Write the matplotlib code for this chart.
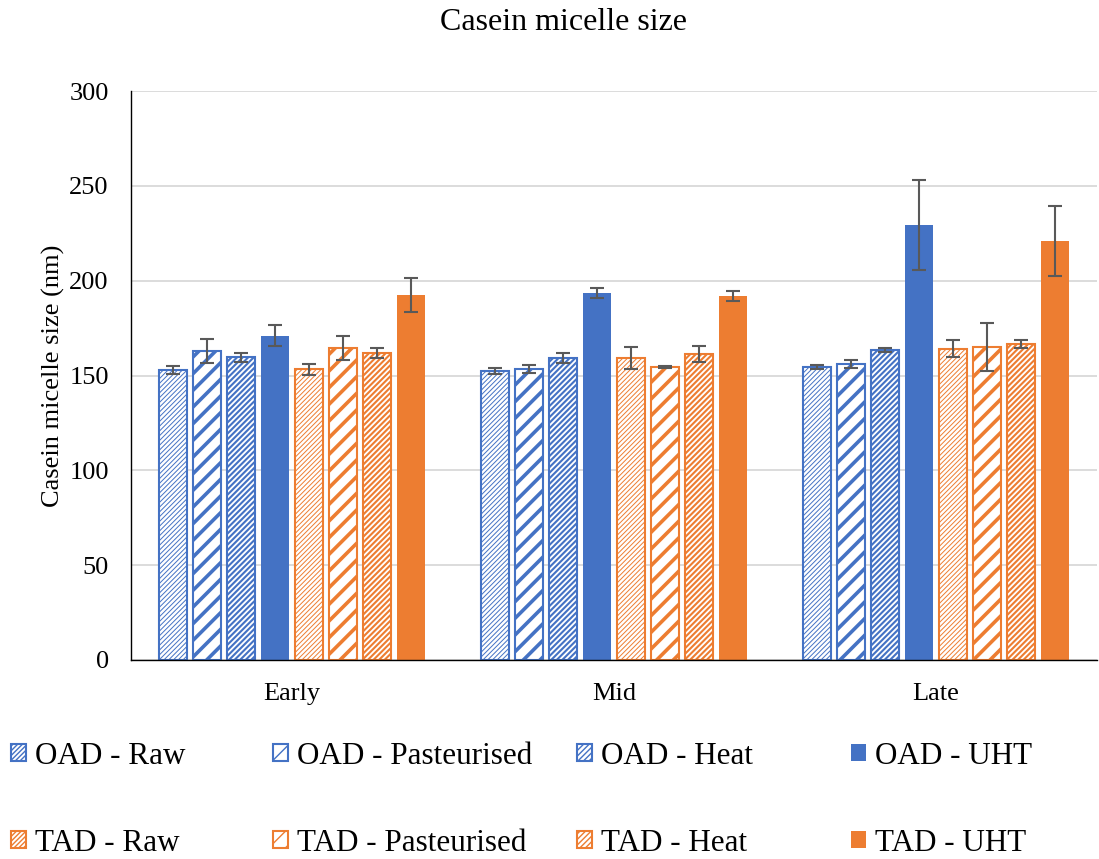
import numpy as np
import matplotlib
matplotlib.use('Agg')
import matplotlib.pyplot as plt

plt.rcParams['font.family'] = ['Liberation Serif', 'DejaVu Serif']

stages = ['Early', 'Mid', 'Late']
series = ['OAD - Raw', 'OAD - Pasteurised', 'OAD - Heat', 'OAD - UHT',
          'TAD - Raw', 'TAD - Pasteurised', 'TAD - Heat', 'TAD - UHT']

# mean size (nm) per series, one value per stage
means = [
    [152.9, 152.3, 154.5],
    [162.7, 153.4, 156.0],
    [159.5, 159.2, 163.4],
    [171.0, 193.5, 229.5],
    [153.2, 159.2, 164.0],
    [164.3, 154.5, 165.0],
    [161.8, 161.3, 166.6],
    [192.4, 191.9, 220.7],
]
errors = [
    [2.0, 1.5, 1.0],
    [6.3, 2.0, 2.0],
    [2.5, 2.5, 1.0],
    [5.5, 2.5, 23.7],
    [2.7, 6.0, 4.5],
    [6.3, 0.5, 12.7],
    [2.8, 4.0, 2.0],
    [9.0, 2.5, 18.5],
]

blue = '#4472C4'
orange = '#ED7D31'
colors = [blue] * 4 + [orange] * 4
# raw: fine light stripes, pasteurised: wide stripes, heat: dense stripes
hatches = ['///////', '//', '//////', None] * 2
hatch_lw = [0.7, 2.6, 1.5, 0] * 2

fig = plt.figure(figsize=(10.99, 8.59), dpi=100)
ax = fig.add_axes([131 / 1099, 1 - 660 / 859, 966 / 1099, 569 / 859])

x = np.arange(len(stages))
step = 0.1056
width = 0.087
bars = []
for i, name in enumerate(series):
    pos = x + (i - 3.5) * step
    if hatches[i] is None:
        b = ax.bar(pos, means[i], width, color=colors[i], label=name, zorder=2)
    else:
        with plt.rc_context({'hatch.linewidth': hatch_lw[i]}):
            b = ax.bar(pos, means[i], width, facecolor='white',
                       edgecolor=colors[i], hatch=hatches[i], linewidth=1.5,
                       label=name, zorder=2)
    bars.append(b)
    ax.errorbar(pos, means[i], yerr=errors[i], fmt='none', ecolor='#595959',
                elinewidth=1.5, capsize=5, capthick=1.5, zorder=3)

ax.set_xlim(-0.5, 2.5)
ax.set_ylim(0, 300)
ax.set_yticks(np.arange(0, 301, 50))
ax.set_xticks(x)
ax.set_xticklabels(stages)
ax.yaxis.grid(True, color='#D9D9D9', linewidth=1.3, zorder=0)
ax.set_axisbelow(True)
for side in ['top', 'right']:
    ax.spines[side].set_visible(False)
ax.spines['left'].set_color('#000000')
ax.spines['bottom'].set_color('#000000')
ax.spines['left'].set_linewidth(1.0)
ax.spines['bottom'].set_linewidth(1.0)
ax.tick_params(axis='both', labelsize=19, length=0)
ax.tick_params(axis='y', pad=16)
ax.tick_params(axis='x', pad=16.5)
ax.set_ylabel('Casein micelle size (nm)', fontsize=19, labelpad=3)

fig.text(564 / 1099, 1 - 23 / 859, 'Casein micelle size', fontsize=23,
         ha='center', va='center')

# legend: one two-row column per treatment, laid out left to right
col_x = [11, 273, 577, 851]
for c in range(4):
    leg = fig.legend([bars[c], bars[c + 4]], [series[c], series[c + 4]],
                     loc='upper left',
                     bbox_to_anchor=(col_x[c] / 1099, 1 - 742 / 859),
                     frameon=False, fontsize=22.4, handlelength=0.47,
                     handleheight=0.47, handletextpad=0.3, labelspacing=1.86,
                     borderpad=0, borderaxespad=0)

fig.savefig('out.png', dpi=100)
